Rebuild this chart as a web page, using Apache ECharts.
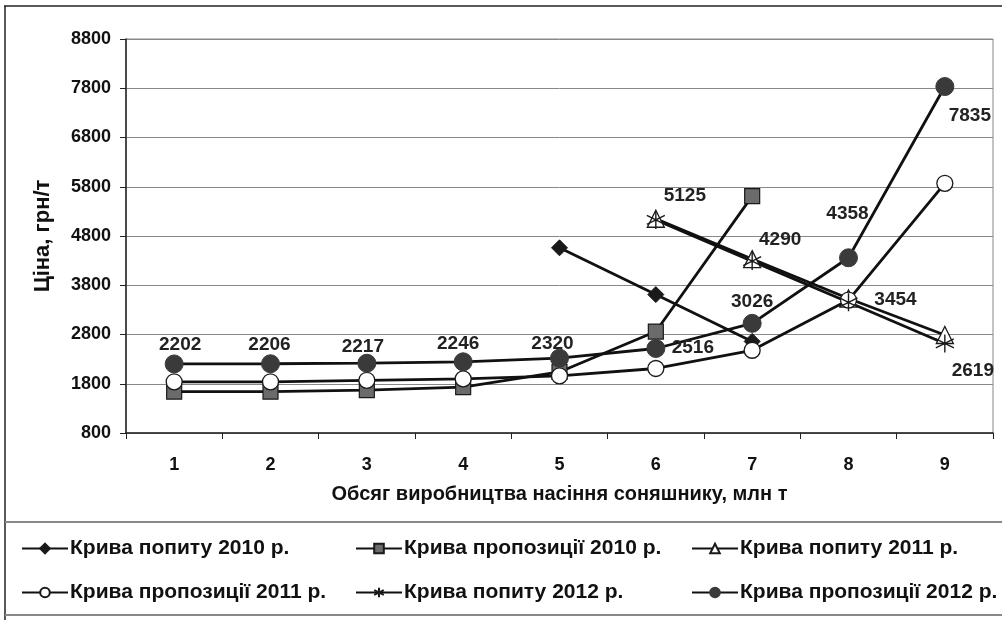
<!DOCTYPE html>
<html>
<head>
<meta charset="utf-8">
<script src="https://cdn.jsdelivr.net/npm/echarts@6/dist/echarts.min.js"></script>
<style>
  html, body { margin: 0; padding: 0; background: #fff; }
  #chart { width: 1002px; height: 620px; }
</style>
</head>
<body>
<div id="chart"></div>
<script>
// обсяг виробництва, млн т
const categories = ['1', '2', '3', '4', '5', '6', '7', '8', '9'];
const yTicks = { min: 800, max: 8800, step: 1000 };

// ціна, грн/т
const demand2010 = [null, null, null, null, 4560, 3610, 2660, null, null];
const supply2010 = [1640, 1640, 1670, 1730, 2040, 2860, 5610, null, null];
const demand2011 = [null, null, null, null, null, 5150, 4330, 3530, 2790];
const supply2011 = [1840, 1840, 1870, 1900, 1960, 2110, 2480, 3500, 5870];
const demand2012 = [null, null, null, null, null, 5125, 4290, 3454, 2619];
const supply2012 = [2202, 2206, 2217, 2246, 2320, 2516, 3026, 4358, 7835];

const names = [
  'Крива попиту 2010 р.',
  'Крива пропозиції 2010 р.',
  'Крива попиту 2011 р.',
  'Крива пропозиції 2011 р.',
  'Крива попиту 2012 р.',
  'Крива пропозиції 2012 р.'
];

const FONT = '"Liberation Sans", Arial, sans-serif';

// зсув підписів відносно точок (px)
const shiftSupply2012 = [[6, -19], [-1, -19], [-4, -16], [-5, -18], [-7, -14], [37, -1], [0, -22], [-1, -44], [25, 29]];
const shiftDemand2012 = [null, null, null, null, null, [29, -24], [28, -21], [47, -3], [28, 27]];

const labelled = (values, shifts) => values.map((v, i) => {
  if (v == null) return null;
  return {
    value: v,
    label: {
      show: true,
      position: 'inside',
      offset: shifts[i],
      formatter: String(v),
      color: '#222',
      fontFamily: FONT,
      fontWeight: 'bold',
      fontSize: 19
    }
  };
});

const asterisk = 'path://M0,-10L0,10M-8.66,-5L8.66,5M-8.66,5L8.66,-5';

const baseLine = { color: '#111', width: 2.8 };

const chart = echarts.init(document.getElementById('chart'));

const legendPos = [
  [21, 538], [355, 538], [691, 538],
  [21, 582], [355, 582], [691, 582]
];

chart.setOption({
  backgroundColor: '#ffffff',
  animation: false,
  textStyle: { fontFamily: FONT },
  grid: {
    left: 126, right: 9, top: 39, bottom: 187,
    show: true, borderColor: '#888', borderWidth: 1
  },
  legend: names.map((n, i) => ({
    data: [n],
    left: legendPos[i][0],
    top: legendPos[i][1],
    padding: 0,
    itemWidth: 46,
    itemHeight: 12,
    itemGap: 0,
    textStyle: { color: '#111', fontFamily: FONT, fontWeight: 'bold', fontSize: 21, padding: [0, 0, 0, -3] }
  })),
  xAxis: {
    type: 'category',
    data: categories,
    boundaryGap: true,
    name: 'Обсяг виробництва насіння соняшнику, млн т',
    nameLocation: 'middle',
    nameGap: 51,
    nameTextStyle: { color: '#111', fontFamily: FONT, fontWeight: 'bold', fontSize: 20 },
    axisLine: { lineStyle: { color: '#222', width: 1.5 } },
    axisTick: { show: true, length: 6, interval: 0, lineStyle: { color: '#222' } },
    axisLabel: { color: '#111', fontFamily: FONT, fontWeight: 'bold', fontSize: 18, margin: 23 },
    splitLine: { show: false }
  },
  yAxis: {
    type: 'value',
    min: yTicks.min,
    max: yTicks.max,
    interval: yTicks.step,
    name: 'Ціна, грн/т',
    nameLocation: 'middle',
    nameGap: 72,
    nameRotate: 90,
    nameTextStyle: { color: '#111', fontFamily: FONT, fontWeight: 'bold', fontSize: 22 },
    axisLine: { show: true, lineStyle: { color: '#222', width: 1.5 } },
    axisTick: { show: true, length: 6, lineStyle: { color: '#222' } },
    axisLabel: {
      color: '#111', fontFamily: FONT, fontWeight: 'bold', fontSize: 18, margin: 15,
      formatter: v => String(v)
    },
    splitLine: { lineStyle: { color: '#888', width: 1 } }
  },
  series: [
    {
      name: names[0], type: 'line', data: demand2010,
      symbol: 'diamond', symbolSize: 16,
      lineStyle: baseLine,
      itemStyle: { color: '#1a1a1a', borderColor: '#1a1a1a', borderWidth: 1 }
    },
    {
      name: names[1], type: 'line', data: supply2010,
      symbol: 'rect', symbolSize: 15,
      lineStyle: baseLine,
      itemStyle: { color: '#6b6b6b', borderColor: '#1a1a1a', borderWidth: 1.2 }
    },
    {
      name: names[2], type: 'line', data: demand2011,
      symbol: 'triangle', symbolSize: 17,
      lineStyle: baseLine,
      itemStyle: { color: '#ffffff', borderColor: '#1a1a1a', borderWidth: 1.3 }
    },
    {
      name: names[3], type: 'line', data: supply2011,
      symbol: 'circle', symbolSize: 16,
      lineStyle: baseLine,
      itemStyle: { color: '#ffffff', borderColor: '#1a1a1a', borderWidth: 1.3 }
    },
    {
      name: names[4], type: 'line', data: labelled(demand2012, shiftDemand2012),
      symbol: asterisk, symbolSize: 18,
      lineStyle: baseLine,
      itemStyle: { color: '#1a1a1a', borderColor: '#1a1a1a', borderWidth: 1.4 }
    },
    {
      name: names[5], type: 'line', data: labelled(supply2012, shiftSupply2012),
      symbol: 'circle', symbolSize: 18,
      lineStyle: baseLine,
      itemStyle: { color: '#3a3a3a', borderColor: '#3a3a3a', borderWidth: 1 }
    }
  ],
  graphic: [
    { type: 'line', shape: { x1: 4, y1: 6, x2: 1002, y2: 6 }, style: { stroke: '#222', lineWidth: 1.5 } },
    { type: 'line', shape: { x1: 5, y1: 6, x2: 5, y2: 620 }, style: { stroke: '#222', lineWidth: 1.5 } },
    { type: 'line', shape: { x1: 5, y1: 522, x2: 1002, y2: 522 }, style: { stroke: '#888', lineWidth: 2 } },
    { type: 'line', shape: { x1: 5, y1: 615, x2: 1002, y2: 615 }, style: { stroke: '#888', lineWidth: 2 } }
  ]
});
</script>
</body>
</html>
